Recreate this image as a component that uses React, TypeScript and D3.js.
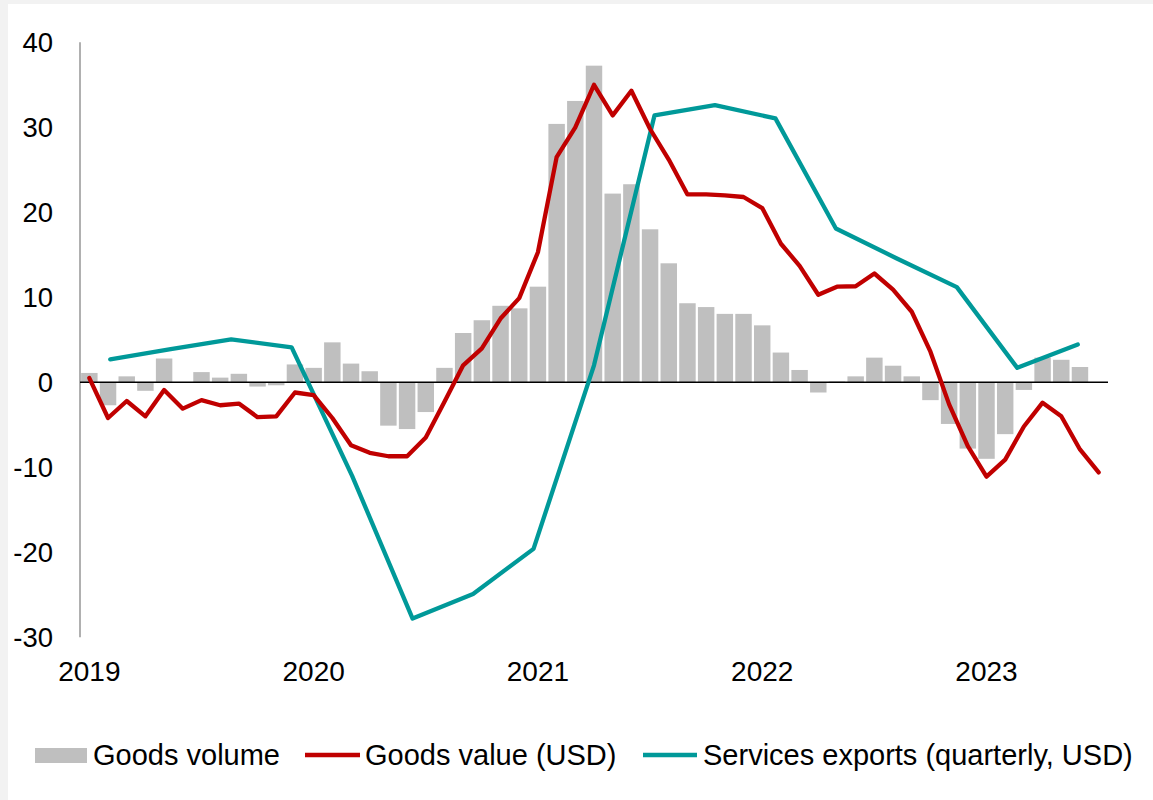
import * as d3 from "d3";

// monthly, Jan 2019 .. Jul 2023 (y/y %)
const months = d3.range(55).map(i => new Date(2019, i, 1));
const goodsVolume = [
  1.1, -2.7, 0.7, -1.0, 2.8, 0, 1.2, 0.55, 1.0, -0.5, -0.35, 2.1,
  1.7, 4.7, 2.2, 1.3, -5.1, -5.5, -3.5, 1.7, 5.8, 7.3, 9.0, 8.7,
  11.25, 30.4, 33.1, 37.25, 22.2, 23.3, 18.0, 14.0, 9.3, 8.85, 8.05, 8.05,
  6.7, 3.5, 1.45, -1.2, 0.1, 0.7, 2.9, 1.95, 0.7, -2.1, -4.9, -7.8,
  -9.0, -6.1, -0.9, 2.9, 2.65, 1.8,
];
const goodsValue = [
  0.5, -4.2, -2.2, -4.0, -0.9, -3.1, -2.1, -2.7, -2.5, -4.1, -4.0, -1.2,
  -1.5, -4.2, -7.4, -8.3, -8.7, -8.7, -6.5, -2.3, 2.0, 4.0, 7.5, 9.9,
  15.3, 26.5, 30.0, 35.0, 31.4, 34.3, 29.8, 26.2, 22.1, 22.1, 22.0, 21.8,
  20.5, 16.3, 13.7, 10.3, 11.25, 11.3, 12.8, 10.9, 8.3, 3.6, -2.6, -7.5,
  -11.1, -9.1, -5.2, -2.4, -4.0, -7.9, -10.6,
];
// quarterly series, drawn on its own category axis
const quarters = d3.range(17).map(i => `Q${(i % 4) + 1} ${2019 + Math.floor(i / 4)}`);
const servicesExports = [
  2.7, 3.9, 5.05, 4.1, -11.0, -27.8, -24.9, -19.6, 2.0, 31.4, 32.6, 31.05,
  18.1, 14.6, 11.2, 1.7, 4.45,
];
const yTicks = [40, 30, 20, 10, 0, -10, -20, -30];
const yearTicks = [2019, 2020, 2021, 2022, 2023];

const W = 1145, H = 796;
const M = { l: 72, r: 1100, t: 38.3, b: 633.3 };
const RED = "#C00000", TEAL = "#009999", GREY = "#BFBFBF";
const FONT = "'Liberation Sans', Arial, sans-serif";

export default function App() {
  const x = d3.scaleBand<number>().domain(d3.range(months.length)).range([M.l, M.r]).paddingInner(0.12).paddingOuter(0.06);
  const xc = d3.scaleBand<number>().domain(d3.range(months.length)).range([M.l, M.r]);
  const xq = d3.scalePoint<string>().domain(quarters).range([M.l, M.r]).padding(0.5);
  const y = d3.scaleLinear().domain([-30, 40]).range([M.b, M.t]);
  const mid = (i: number) => (xc(i) as number) + xc.bandwidth() / 2;

  const redLine = d3.line<number>().x((_, i) => mid(i)).y(d => y(d))(goodsValue) as string;
  const tealLine = d3.line<number>().x((_, i) => xq(quarters[i]) as number).y(d => y(d))(servicesExports) as string;

  return (
    <>
      <style>{`html,body{margin:0;padding:0;overflow:hidden;background:#f2f2f2}body{padding:4px 0 0 8px}`}</style>
      <svg width={W} height={H} style={{ display: "block", fontFamily: FONT, background: "#fff" }}>
        {goodsVolume.map((v, i) => (
          <rect key={i} x={x(i)} width={x.bandwidth()} y={y(Math.max(0, v))} height={Math.abs(y(v) - y(0))} fill={GREY} />
        ))}
        <line x1={M.l} x2={M.l} y1={M.t} y2={M.b} stroke="#868686" strokeWidth={1.3} />
        <line x1={M.l} x2={M.r} y1={y(0)} y2={y(0)} stroke="#000" strokeWidth={1.5} />
        <path d={tealLine} fill="none" stroke={TEAL} strokeWidth={4.3} strokeLinejoin="round" strokeLinecap="round" />
        <path d={redLine} fill="none" stroke={RED} strokeWidth={4.3} strokeLinejoin="round" strokeLinecap="round" />
        {yTicks.map(t => (
          <text key={t} x={45} y={y(t)} dy="0.36em" textAnchor="end" fontSize={27.5} fill="#000">{t}</text>
        ))}
        {yearTicks.map(yr => (
          <text key={yr} x={mid((yr - 2019) * 12)} y={677} textAnchor="middle" fontSize={28} fill="#000">{yr}</text>
        ))}
        <g fontSize={29} fill="#000">
          <rect x={27} y={744} width={52} height={15} fill={GREY} />
          <text x={85} y={761}>Goods volume</text>
          <line x1={297} x2={352} y1={751} y2={751} stroke={RED} strokeWidth={4.3} />
          <text x={357} y={761}>Goods value (USD)</text>
          <line x1={635} x2={689} y1={751} y2={751} stroke={TEAL} strokeWidth={4.3} />
          <text x={695} y={761}>Services exports (quarterly, USD)</text>
        </g>
      </svg>
    </>
  );
}
